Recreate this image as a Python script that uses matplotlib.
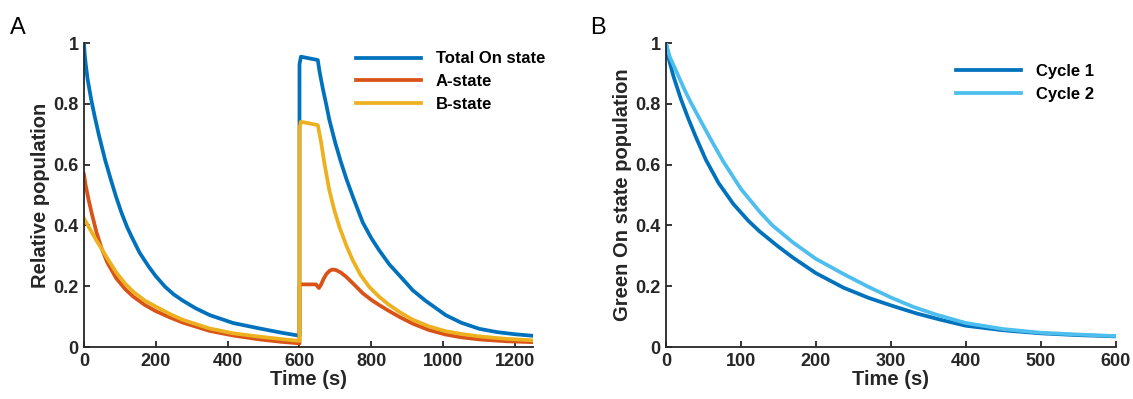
import numpy as np
import matplotlib.pyplot as plt

plt.rcParams['font.family'] = ['Liberation Sans', 'DejaVu Sans']
plt.rcParams['font.weight'] = 'bold'

# ---- colours (MATLAB default palette) ----
C_BLUE = '#0072BD'
C_RED = '#D95319'
C_YEL = '#EDB120'
C_LIGHT = '#4DBEEE'
C_AX = '#262626'

# ---- panel A: relative population vs time (two illumination cycles) ----
t_total = [0, 2, 5, 10, 20, 30, 42, 59, 75, 90, 105, 120, 133, 155, 180, 200, 226, 250,
           276, 310, 350, 415, 489, 550, 600,
           600, 604, 651, 656, 665, 675, 683, 700, 715, 730, 750, 776, 800, 822, 850,
           887, 915, 950, 1007, 1050, 1100, 1150, 1200, 1249]
total = [1.0, 0.965, 0.93, 0.882, 0.815, 0.758, 0.695, 0.615, 0.55, 0.492, 0.44, 0.395,
         0.362, 0.31, 0.265, 0.233, 0.198, 0.173, 0.152, 0.128, 0.105, 0.079, 0.061,
         0.047, 0.037,
         0.93, 0.955, 0.944, 0.905, 0.85, 0.795, 0.748, 0.67, 0.61, 0.555, 0.49, 0.41,
         0.358, 0.318, 0.272, 0.224, 0.187, 0.153, 0.105, 0.08, 0.06, 0.049, 0.042, 0.037]

t_a = [0, 5, 13, 22, 35, 48, 65, 90, 115, 137, 170, 200, 240, 276, 350, 415, 489, 550, 600,
       600, 604, 646, 650, 654, 660, 667, 675, 684, 692, 702, 715, 730, 750, 776, 800,
       822, 850, 880, 915, 960, 1007, 1050, 1100, 1175, 1249]
a_state = [0.568, 0.53, 0.484, 0.438, 0.377, 0.328, 0.278, 0.226, 0.19, 0.166, 0.138,
           0.118, 0.097, 0.08, 0.053, 0.038, 0.025, 0.017, 0.012,
           0.2, 0.206, 0.206, 0.2, 0.194, 0.205, 0.224, 0.24, 0.251, 0.255, 0.253, 0.245,
           0.231, 0.208, 0.177, 0.155, 0.138, 0.118, 0.098, 0.077, 0.056, 0.041, 0.032,
           0.025, 0.019, 0.016]

t_b = [0, 10, 22, 35, 48, 65, 90, 115, 137, 170, 200, 240, 276, 350, 415, 489, 550, 600,
       600, 604, 651, 656, 660, 670, 683, 697, 711, 730, 748, 770, 794, 822, 850, 880,
       915, 960, 1007, 1050, 1100, 1175, 1249]
b_state = [0.423, 0.402, 0.377, 0.35, 0.325, 0.292, 0.245, 0.208, 0.182, 0.152, 0.133,
           0.108, 0.089, 0.061, 0.045, 0.034, 0.026, 0.02,
           0.72, 0.741, 0.73, 0.70, 0.675, 0.60, 0.516, 0.45, 0.396, 0.335, 0.286, 0.237,
           0.198, 0.165, 0.138, 0.114, 0.09, 0.068, 0.052, 0.043, 0.035, 0.027, 0.022]

# ---- panel B: green On state population per cycle ----
t_c1 = [0, 3, 10, 20, 30, 40, 53, 70, 90, 110, 125, 150, 170, 200, 237, 270, 300, 335,
        366, 400, 450, 500, 550, 600]
cycle1 = [1.0, 0.955, 0.89, 0.815, 0.75, 0.69, 0.617, 0.54, 0.47, 0.415, 0.38, 0.33,
          0.293, 0.243, 0.195, 0.162, 0.137, 0.11, 0.09, 0.07, 0.055, 0.045, 0.039, 0.035]
t_c2 = [0, 5, 15, 25, 33, 50, 60, 76, 100, 125, 142, 170, 200, 237, 270, 300, 330, 360,
        400, 450, 500, 550, 600]
cycle2 = [1.0, 0.955, 0.90, 0.845, 0.805, 0.727, 0.682, 0.612, 0.52, 0.445, 0.40, 0.343,
          0.29, 0.24, 0.198, 0.163, 0.132, 0.107, 0.079, 0.059, 0.047, 0.041, 0.036]

LW = 2.7

fig = plt.figure(figsize=(11.33, 3.99), dpi=100)
ax1 = fig.add_axes([0.0741, 0.1303, 0.3963, 0.7619])
ax2 = fig.add_axes([0.5878, 0.1303, 0.3969, 0.7619])


def style_axis(ax):
    for s in ['top', 'right']:
        ax.spines[s].set_visible(False)
    for s in ['left', 'bottom']:
        ax.spines[s].set_color(C_AX)
        ax.spines[s].set_linewidth(1.3)
    ax.tick_params(direction='in', length=4, width=1.3, colors=C_AX,
                   labelsize=13, pad=4)
    for lab in ax.get_xticklabels() + ax.get_yticklabels():
        lab.set_fontweight('bold')
    ax.set_ylim(0, 1)
    ax.set_yticks([0, 0.2, 0.4, 0.6, 0.8, 1])
    ax.set_yticklabels(['0', '0.2', '0.4', '0.6', '0.8', '1'])


# panel A
ax1.plot(t_total, total, color=C_BLUE, lw=LW, label='Total On state', solid_joinstyle='round')
ax1.plot(t_a, a_state, color=C_RED, lw=LW, label='A-state', solid_joinstyle='round')
ax1.plot(t_b, b_state, color=C_YEL, lw=LW, label='B-state', solid_joinstyle='round')
ax1.set_xlim(0, 1250)
ax1.set_xticks([0, 200, 400, 600, 800, 1000, 1200])
style_axis(ax1)
ax1.set_xlabel('Time (s)', fontsize=14.5, fontweight='bold', color=C_AX, labelpad=0)
ax1.set_ylabel('Relative population', fontsize=14.5, fontweight='bold', color=C_AX, labelpad=2)
ax1.legend(loc='upper left', bbox_to_anchor=(0.3142, 0.871), bbox_transform=fig.transFigure,
           frameon=False, fontsize=12, handlelength=3.9, handletextpad=0.9,
           borderpad=0, borderaxespad=0, labelspacing=0.46)

# panel B
ax2.plot(t_c1, cycle1, color=C_BLUE, lw=LW, label='Cycle 1', solid_joinstyle='round')
ax2.plot(t_c2, cycle2, color=C_LIGHT, lw=LW, label='Cycle 2', solid_joinstyle='round')
ax2.set_xlim(0, 600)
ax2.set_xticks([0, 100, 200, 300, 400, 500, 600])
style_axis(ax2)
ax2.set_xlabel('Time (s)', fontsize=14.5, fontweight='bold', color=C_AX, labelpad=0)
ax2.set_ylabel('Green On state population', fontsize=14.5, fontweight='bold', color=C_AX, labelpad=2)
ax2.legend(loc='upper left', bbox_to_anchor=(0.844, 0.8396), bbox_transform=fig.transFigure,
           frameon=False, fontsize=12, handlelength=3.9, handletextpad=0.9,
           borderpad=0, borderaxespad=0, labelspacing=0.46)

fig.text(0.009, 0.93, 'A', fontsize=17, fontweight='normal', va='center', color='black')
fig.text(0.521, 0.93, 'B', fontsize=17, fontweight='normal', va='center', color='black')

fig.savefig('out.png', dpi=100)
